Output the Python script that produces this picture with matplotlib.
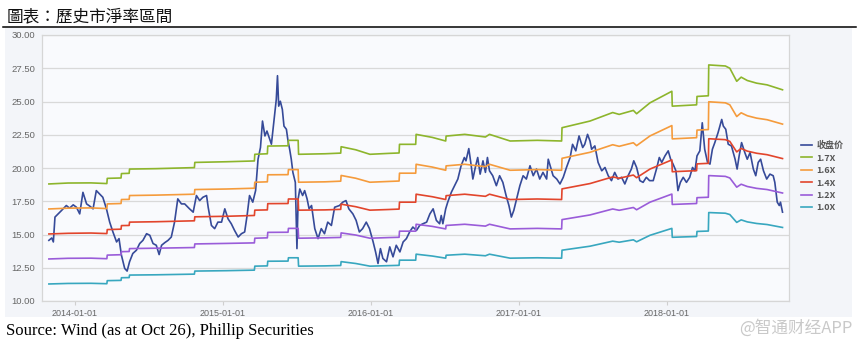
import matplotlib
matplotlib.use("Agg")
import matplotlib.pyplot as plt
import pandas as pd
from matplotlib.patches import Rectangle
from matplotlib.lines import Line2D
from matplotlib.ticker import FormatStrFormatter
from matplotlib.font_manager import FontProperties

# ---------------- data ----------------
price_dates = [
    "2013-10-29","2013-11-05","2013-11-09","2013-11-13","2013-11-21","2013-11-29","2013-12-11","2013-12-19","2013-12-28",
    "2014-01-05","2014-01-13","2014-01-21","2014-01-30","2014-02-07","2014-02-15","2014-02-23","2014-03-03","2014-03-11",
    "2014-03-20","2014-03-28","2014-04-05","2014-04-14","2014-04-20","2014-04-26","2014-05-04","2014-05-10","2014-05-16",
    "2014-05-24","2014-06-02","2014-06-10","2014-06-18","2014-06-27","2014-07-05","2014-07-13","2014-07-21","2014-07-28",
    "2014-08-03","2014-08-11","2014-08-19","2014-08-27","2014-09-04","2014-09-12","2014-09-21","2014-09-29","2014-10-07",
    "2014-10-11","2014-10-20","2014-10-28","2014-11-05","2014-11-13","2014-11-22","2014-11-26","2014-12-04","2014-12-12",
    "2014-12-20","2014-12-29","2015-01-06","2015-01-14","2015-01-22","2015-01-30","2015-02-08","2015-02-16","2015-02-24",
    "2015-03-02","2015-03-08","2015-03-16","2015-03-23","2015-03-29","2015-04-04","2015-04-09","2015-04-15","2015-04-20",
    "2015-04-27","2015-05-01","2015-05-05","2015-05-09","2015-05-13","2015-05-16","2015-05-19","2015-05-23","2015-05-28",
    "2015-06-01","2015-06-07","2015-06-11","2015-06-15","2015-06-19","2015-06-23","2015-06-29","2015-07-03","2015-07-06",
    "2015-07-10","2015-07-17","2015-07-22","2015-07-28","2015-08-02","2015-08-08","2015-08-16","2015-08-24","2015-09-01",
    "2015-09-09","2015-09-17","2015-09-26","2015-10-04","2015-10-16","2015-10-24","2015-11-01","2015-11-08","2015-11-18",
    "2015-11-26","2015-12-04","2015-12-12","2015-12-21","2015-12-29","2016-01-07","2016-01-13","2016-01-19","2016-01-25",
    "2016-01-31","2016-02-09","2016-02-17","2016-02-25","2016-03-04","2016-03-13","2016-03-21","2016-03-29","2016-04-06",
    "2016-04-14","2016-04-23","2016-05-01","2016-05-09","2016-05-18","2016-05-26","2016-06-03","2016-06-11","2016-06-19",
    "2016-06-23","2016-06-27","2016-07-04","2016-07-09","2016-07-18","2016-07-26","2016-08-03","2016-08-11","2016-08-19",
    "2016-08-23","2016-08-30","2016-09-05","2016-09-09","2016-09-16","2016-09-21","2016-09-27","2016-10-04","2016-10-10",
    "2016-10-15","2016-10-20","2016-10-28","2016-11-06","2016-11-14","2016-11-22","2016-11-30","2016-12-07","2016-12-13",
    "2016-12-19","2016-12-26","2017-01-03","2017-01-11","2017-01-19","2017-01-28","2017-02-05","2017-02-13","2017-02-21",
    "2017-03-01","2017-03-10","2017-03-14","2017-03-20","2017-03-26","2017-04-04","2017-04-12","2017-04-20","2017-04-28",
    "2017-05-07","2017-05-13","2017-05-21","2017-05-29","2017-06-07","2017-06-12","2017-06-19","2017-06-25","2017-06-29",
    "2017-07-07","2017-07-15","2017-07-24","2017-08-01","2017-08-09","2017-08-17","2017-08-25","2017-09-02","2017-09-11",
    "2017-09-19","2017-09-27","2017-10-05","2017-10-11","2017-10-18","2017-10-26","2017-11-03","2017-11-11","2017-11-19",
    "2017-11-28","2017-12-06","2017-12-13","2017-12-19","2017-12-27","2018-01-04","2018-01-10","2018-01-16","2018-01-23",
    "2018-01-28","2018-02-03","2018-02-10","2018-02-18","2018-02-26","2018-03-05","2018-03-11","2018-03-16","2018-03-23",
    "2018-03-29","2018-04-04","2018-04-11","2018-04-17","2018-04-23","2018-04-29","2018-05-07","2018-05-16","2018-05-20",
    "2018-05-26","2018-06-01","2018-06-09","2018-06-18","2018-06-23","2018-06-28","2018-07-04","2018-07-12","2018-07-18",
    "2018-07-25","2018-08-02","2018-08-08","2018-08-14","2018-08-20","2018-08-27","2018-09-04","2018-09-12","2018-09-20",
    "2018-09-24","2018-09-30","2018-10-05","2018-10-08","2018-10-13",
]
close_price = [
    14.56,14.74,14.44,16.31,16.55,16.80,17.18,16.98,17.23,
    17.05,16.55,18.17,17.30,17.13,16.93,18.30,18.05,17.80,
    16.93,15.93,15.19,14.44,14.69,13.44,12.45,12.25,12.95,
    13.57,13.82,14.32,14.56,15.06,14.94,14.32,14.19,13.49,
    14.19,14.39,14.56,14.81,15.93,17.68,17.30,17.30,17.05,
    16.93,16.68,17.93,17.55,17.80,17.93,17.05,15.68,15.44,
    15.93,15.93,16.93,16.18,15.81,15.31,14.81,15.06,15.19,
    16.43,17.93,17.43,18.30,20.66,21.54,23.53,22.41,22.78,
    22.16,21.79,22.91,24.03,25.15,26.94,24.65,25.02,24.40,
    23.15,22.91,22.03,21.41,20.66,19.67,18.92,13.94,17.68,
    18.42,17.93,18.30,17.68,16.93,17.18,15.44,14.69,15.44,
    15.06,15.93,15.68,17.05,17.18,17.43,17.55,16.93,16.55,
    16.06,15.19,15.44,15.93,15.44,14.44,13.69,12.82,13.94,
    13.20,12.95,14.07,13.32,14.19,13.69,14.44,14.69,15.19,
    15.56,15.31,15.69,15.81,15.93,16.55,16.93,16.06,15.81,
    16.43,15.81,16.93,17.43,18.18,18.67,19.17,20.17,20.79,
    20.54,21.46,20.17,19.17,20.17,20.79,19.54,20.54,19.67,
    20.79,19.79,19.42,18.67,19.42,18.92,17.93,17.18,16.31,
    16.81,17.68,18.67,19.42,19.17,20.17,19.42,19.92,19.17,
    19.67,19.17,20.66,20.04,19.42,19.17,18.80,19.30,20.04,
    20.79,21.78,21.29,22.41,21.54,21.78,22.53,22.03,21.41,
    21.66,20.42,19.79,20.04,19.42,19.05,19.67,19.17,19.30,
    18.80,19.42,19.92,20.54,20.04,19.05,18.92,19.30,19.05,
    19.05,19.92,20.79,20.42,20.91,21.29,20.66,20.29,19.79,
    18.30,18.92,19.30,18.92,19.30,20.04,19.79,20.91,21.29,
    23.40,21.41,20.42,20.29,21.41,21.91,22.66,23.65,23.15,
    22.91,21.79,21.66,20.66,19.92,20.91,21.91,21.16,20.66,
    21.16,19.92,19.42,20.42,20.66,19.79,19.17,19.54,19.42,
    18.92,17.43,17.18,17.43,16.68,
]

band_dates = [
    "2013-10-29","2013-12-15","2014-02-10","2014-03-21","2014-03-22","2014-04-25","2014-04-26","2014-05-15","2014-05-16",
    "2014-07-20","2014-10-23","2014-10-24","2015-01-10","2015-03-20","2015-03-21","2015-04-21","2015-04-22","2015-06-11",
    "2015-06-12","2015-07-06","2015-07-07","2015-09-10","2015-10-19","2015-10-20","2015-11-25","2015-12-30","2016-02-15",
    "2016-03-11","2016-03-12","2016-04-21","2016-04-22","2016-06-01","2016-07-04","2016-07-05","2016-08-20","2016-10-10",
    "2016-10-20","2016-12-10","2017-02-15","2017-04-16","2017-04-17","2017-06-25","2017-08-20","2017-09-05","2017-10-10",
    "2017-10-18","2017-11-20","2018-01-13","2018-01-14","2018-03-15","2018-03-16","2018-04-13","2018-04-14","2018-05-25",
    "2018-06-05","2018-06-22","2018-07-03","2018-07-18","2018-08-10","2018-09-05","2018-10-13",
]
pb_1_7x = [18.80,18.87,18.88,18.83,19.22,19.25,19.58,19.60,19.92,19.95,20.03,20.42,20.47,20.53,21.03,21.07,21.65,21.67,
           22.08,22.08,21.03,21.07,21.12,21.60,21.37,21.03,21.10,21.13,21.78,21.78,22.53,22.30,22.03,22.40,22.53,22.33,
           22.53,22.03,22.08,22.03,23.03,23.53,24.17,24.03,24.33,24.08,24.90,25.77,24.65,24.75,25.38,25.43,27.75,27.67,
           27.50,26.52,26.83,26.58,26.38,26.25,25.88]
pb_1_6x = [16.92,16.98,17.00,16.95,17.30,17.33,17.63,17.64,17.93,17.96,18.03,18.38,18.42,18.48,18.93,18.96,19.49,19.50,
           19.88,19.88,18.93,18.96,19.01,19.44,19.23,18.93,18.99,19.02,19.61,19.61,20.28,20.07,19.83,20.16,20.28,20.10,
           20.28,19.83,19.88,19.83,20.73,21.18,21.75,21.63,21.90,21.68,22.41,23.19,22.19,22.28,22.85,22.89,24.98,24.90,
           24.75,23.87,24.15,23.93,23.75,23.63,23.30]
pb_1_4x = [15.04,15.09,15.11,15.07,15.37,15.40,15.67,15.68,15.93,15.96,16.03,16.33,16.37,16.43,16.83,16.85,17.32,17.33,
           17.67,17.67,16.83,16.85,16.89,17.28,17.09,16.83,16.88,16.91,17.43,17.43,18.03,17.84,17.63,17.92,18.03,17.87,
           18.03,17.63,17.67,17.63,18.43,18.83,19.33,19.23,19.47,19.27,19.92,20.61,19.72,19.80,20.31,20.35,22.20,22.13,
           22.00,21.21,21.47,21.27,21.11,21.00,20.71]
pb_1_2x = [13.16,13.21,13.22,13.18,13.45,13.48,13.71,13.72,13.94,13.97,14.02,14.29,14.33,14.37,14.72,14.75,15.16,15.17,
           15.46,15.46,14.72,14.75,14.78,15.12,14.96,14.72,14.77,14.79,15.25,15.25,15.77,15.61,15.42,15.68,15.77,15.63,
           15.77,15.42,15.46,15.42,16.12,16.47,16.92,16.82,17.03,16.86,17.43,18.04,17.26,17.33,17.77,17.80,19.43,19.37,
           19.25,18.56,18.78,18.61,18.47,18.38,18.12]
pb_1_0x = [11.28,11.32,11.33,11.30,11.53,11.55,11.75,11.76,11.95,11.97,12.02,12.25,12.28,12.32,12.62,12.64,12.99,13.00,
           13.25,13.25,12.62,12.64,12.67,12.96,12.82,12.62,12.66,12.68,13.07,13.07,13.52,13.38,13.22,13.44,13.52,13.40,
           13.52,13.22,13.25,13.22,13.82,14.12,14.50,14.42,14.60,14.45,14.94,15.46,14.79,14.85,15.23,15.26,16.65,16.60,
           16.50,15.91,16.10,15.95,15.83,15.75,15.53]

series_labels = ["收盘价", "1.7X", "1.6X", "1.4X", "1.2X", "1.0X"]
y_ticks = [10.0, 12.5, 15.0, 17.5, 20.0, 22.5, 25.0, 27.5, 30.0]
x_ticks = ["2014-01-01", "2015-01-01", "2016-01-01", "2017-01-01", "2018-01-01"]

# ---------------- figure ----------------
W, H = 859, 347
fig = plt.figure(figsize=(W / 100, H / 100), dpi=100)
fig.patch.set_facecolor("white")

cjk_tc = ["Noto Sans CJK TC", "DejaVu Sans"]
cjk_sc = ["Noto Sans CJK SC", "DejaVu Sans"]

# light panel behind chart
fig.patches.append(Rectangle((5 / W, 1 - 317 / H), (852 - 5) / W, (317 - 28) / H,
                             transform=fig.transFigure, facecolor="#f3f5f9",
                             edgecolor="none", zorder=-5))
# title and rule
fig.text(7 / W, 1 - 16.5 / H, "圖表：歷史市淨率區間", fontsize=12, family=cjk_tc,
         ha="left", va="center", color="#111111")
fig.add_artist(Line2D([3 / W, 856 / W], [1 - 27 / H, 1 - 27 / H], color="black", lw=1.1))

ax = fig.add_axes([42 / W, 1 - 301 / H, (789 - 42) / W, (301 - 35) / H])
ax.set_zorder(2)
ax.set_facecolor("#f9fafd")

colors = ["#364a99", "#8db52c", "#f59b3c", "#e2452c", "#9a5cd9", "#38a7bf"]
pdates = pd.to_datetime(price_dates)
bdates = pd.to_datetime(band_dates)
handles = []
h, = ax.plot(pdates, close_price, color=colors[0], lw=1.2, label=series_labels[0])
handles.append(h)
for vals, c, lab in zip([pb_1_7x, pb_1_6x, pb_1_4x, pb_1_2x, pb_1_0x], colors[1:], series_labels[1:]):
    h, = ax.plot(bdates, vals, color=c, lw=1.2, label=lab)
    handles.append(h)

ax.set_ylim(10, 30)
ax.set_xlim(pd.Timestamp("2013-10-12"), pd.Timestamp("2018-10-29"))
ax.set_yticks(y_ticks)
ax.yaxis.set_major_formatter(FormatStrFormatter("%.2f"))
ax.set_xticks(pd.to_datetime(x_ticks))
ax.set_xticklabels(x_ticks)
ax.grid(axis="y", color="#d9d9d9", lw=0.9)
ax.set_axisbelow(True)
for s in ax.spines.values():
    s.set_color("#d6d6d6")
    s.set_linewidth(0.9)
ax.tick_params(axis="y", length=0, pad=5, labelsize=6.8, labelcolor="#666666")
ax.tick_params(axis="x", length=3, width=0.8, color="#cfcfcf", pad=2.5, labelsize=6.5, labelcolor="#666666")
for lbl in ax.get_xticklabels() + ax.get_yticklabels():
    lbl.set_family("Liberation Sans")

leg = fig.legend(handles, series_labels, loc="upper left",
                 bbox_to_anchor=(801 / W, 1 - 141 / H), frameon=False,
                 prop=FontProperties(family=cjk_sc, weight="bold", size=6.5),
                 labelspacing=0.38, handlelength=1.2, handletextpad=0.5,
                 borderpad=0, borderaxespad=0)
for t in leg.get_texts():
    t.set_color("#555555")

fig.text(6 / W, 1 - 331 / H, "Source: Wind (as at Oct 26), Phillip Securities",
         family="Liberation Serif", fontsize=12, ha="left", va="center", color="black")
fig.text(852 / W, 1 - 328 / H, "@智通财经APP", family=cjk_sc, fontsize=12,
         ha="right", va="center", color="#c9c9c9")

fig.savefig("out.png", dpi=100)
